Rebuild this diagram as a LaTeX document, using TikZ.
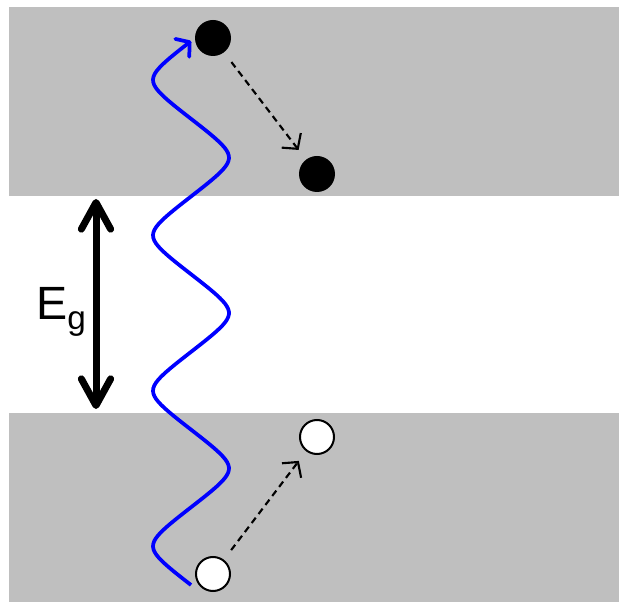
\documentclass[tikz,border=0pt]{standalone}
\usepackage{fontspec}
\setmainfont{Liberation Sans}
\usepackage{xcolor}
\usetikzlibrary{arrows.meta}

\definecolor{bandgray}{RGB}{191,191,191}

\begin{document}
\begin{tikzpicture}[x=0.75pt,y=-0.75pt,>=Stealth,
    band/.style={fill=bandgray,draw=none},
    electron/.style={circle,fill=black,minimum size=27pt,inner sep=0pt},
    hole/.style={circle,draw=black,fill=white,line width=1.5pt,minimum size=25.5pt,inner sep=0pt},
    hop/.style={line width=1.6pt,dash pattern=on 5pt off 3.5pt,-{Straight Barb[length=8pt,width=18pt]},shorten <=9pt,shorten >=9pt},
    gaparrow/.style={line width=5.25pt,{Straight Barb[length=20pt,width=22pt,round]}-{Straight Barb[length=20pt,width=22pt,round]}},
    photon/.style={blue,line width=2.8pt,-{Straight Barb[length=7pt,width=17pt,round]}}]
  \useasboundingbox (0,0) rectangle (619,602);
  \fill[band] (9,7) rectangle (619,196);
  \fill[band] (9,413) rectangle (619,602);

  \node[electron] (e1) at (213,38) {};
  \node[electron] (e2) at (317,174) {};
  \node[hole] (h1) at (213,574) {};
  \node[hole] (h2) at (317,437) {};
  \draw[hop] (e1) -- (e2);
  \draw[hop] (h1) -- (h2);

  \coordinate (gtop) at (96,199);
  \coordinate (gbot) at (96,409);
  \draw[gaparrow] (gtop) -- (gbot);
  \node (eg) at (61,312) {\fontsize{35}{40}\selectfont E\raisebox{-8pt}{\fontsize{25}{25}\selectfont g}};

  \draw[photon] plot[domain=0:544,samples=200,smooth] ({191-38*asin(0.85*sin(\x/155.4*360))/58.21},{585-\x});
\end{tikzpicture}
\end{document}
